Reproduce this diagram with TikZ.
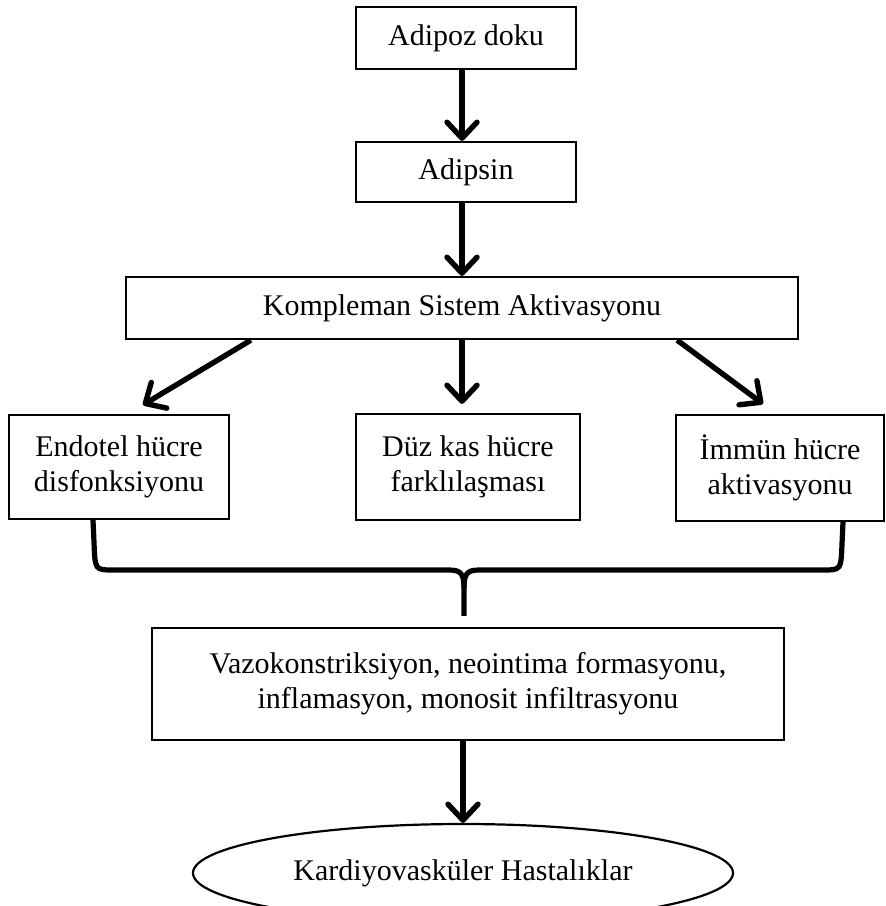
\documentclass[tikz,border=0pt]{standalone}
\usepackage{fontspec}
\setmainfont{Liberation Serif}
\usetikzlibrary{arrows.meta, positioning, shapes.geometric, calc}
\tikzset{box/.style={rectangle,draw,line width=1.1pt,align=center,inner sep=3pt,font=\fontsize{15}{17.5}\selectfont},line/.style={line width=2.7pt,-{Straight Barb[length=8pt,width=15pt,round]}},brace/.style={line width=2.6pt,line join=round}}

\begin{document}
\begin{tikzpicture}[x=0.5pt,y=-0.5pt]
\useasboundingbox (0,0) rectangle (886,906);
\node[box, minimum width=110pt, minimum height=31pt] (a) at (466,38) {Adipoz doku};
\node[box, minimum width=110pt, minimum height=30pt] (b) at (466,172) {Adipsin};
\node[box, minimum width=336pt, minimum height=31pt] (c) at (462,308) {Kompleman Sistem Aktivasyonu};
\node[box, minimum width=110pt, minimum height=52pt] (d1) at (119,467) {Endotel hücre\\disfonksiyonu};
\node[box, minimum width=112pt, minimum height=53pt] (d2) at (468,467) {Düz kas hücre\\farklılaşması};
\node[box, minimum width=104pt, minimum height=53pt] (d3) at (780,468) {İmmün hücre\\aktivasyonu};
\node[box, minimum width=316pt, minimum height=56pt] (e) at (468,684) {Vazokonstriksiyon, neointima formasyonu,\\inflamasyon, monosit infiltrasyonu};
\node[box, ellipse, minimum width=270pt, minimum height=49pt] (f) at (463,873) {Kardiyovasküler Hastalıklar};
\draw[line] (a.south -| 462,0) -- (b.north -| 462,0);
\draw[line] (b.south -| 462,0) -- (c.north);
\draw[line] ($(c.south west)+(126,0)$) -- ($(d1.north)+(24,-9)$);
\draw[line] (c.south) -- ($(c.south |- d2.north)+(0,-9)$);
\draw[line] ($(c.south east)+(-122,0)$) -- ($(d3.north)+(-17,-10)$);
% brace
\coordinate (bl) at ($(d1.south)+(-26,0)$);
\coordinate (br) at ($(d3.south)+(63,0)$);
\coordinate (mid) at (464,570);
\coordinate (tip) at ($(e.north)+(-4,-11)$);
\draw[brace] (bl) -- ($(bl)+(1,22)$) .. controls ($(bl |- mid)+(2,0)$) and ($(bl |- mid)+(2,0)$) .. ($(bl |- mid)+(20,0)$) -- ($(mid)+(-15,0)$) .. controls ($(mid)+(-3,0)$) and ($(mid)+(0,4)$) .. ($(mid)+(0,18)$) -- (tip);
\draw[brace] (br) -- ($(br)+(-1,22)$) .. controls ($(br |- mid)+(-2,0)$) and ($(br |- mid)+(-2,0)$) .. ($(br |- mid)+(-20,0)$) -- ($(mid)+(15,0)$) .. controls ($(mid)+(3,0)$) and ($(mid)+(0,4)$) .. ($(mid)+(0,18)$);
\draw[line] (e.south -| f.north) -- (f.north);
\end{tikzpicture}
\end{document}
